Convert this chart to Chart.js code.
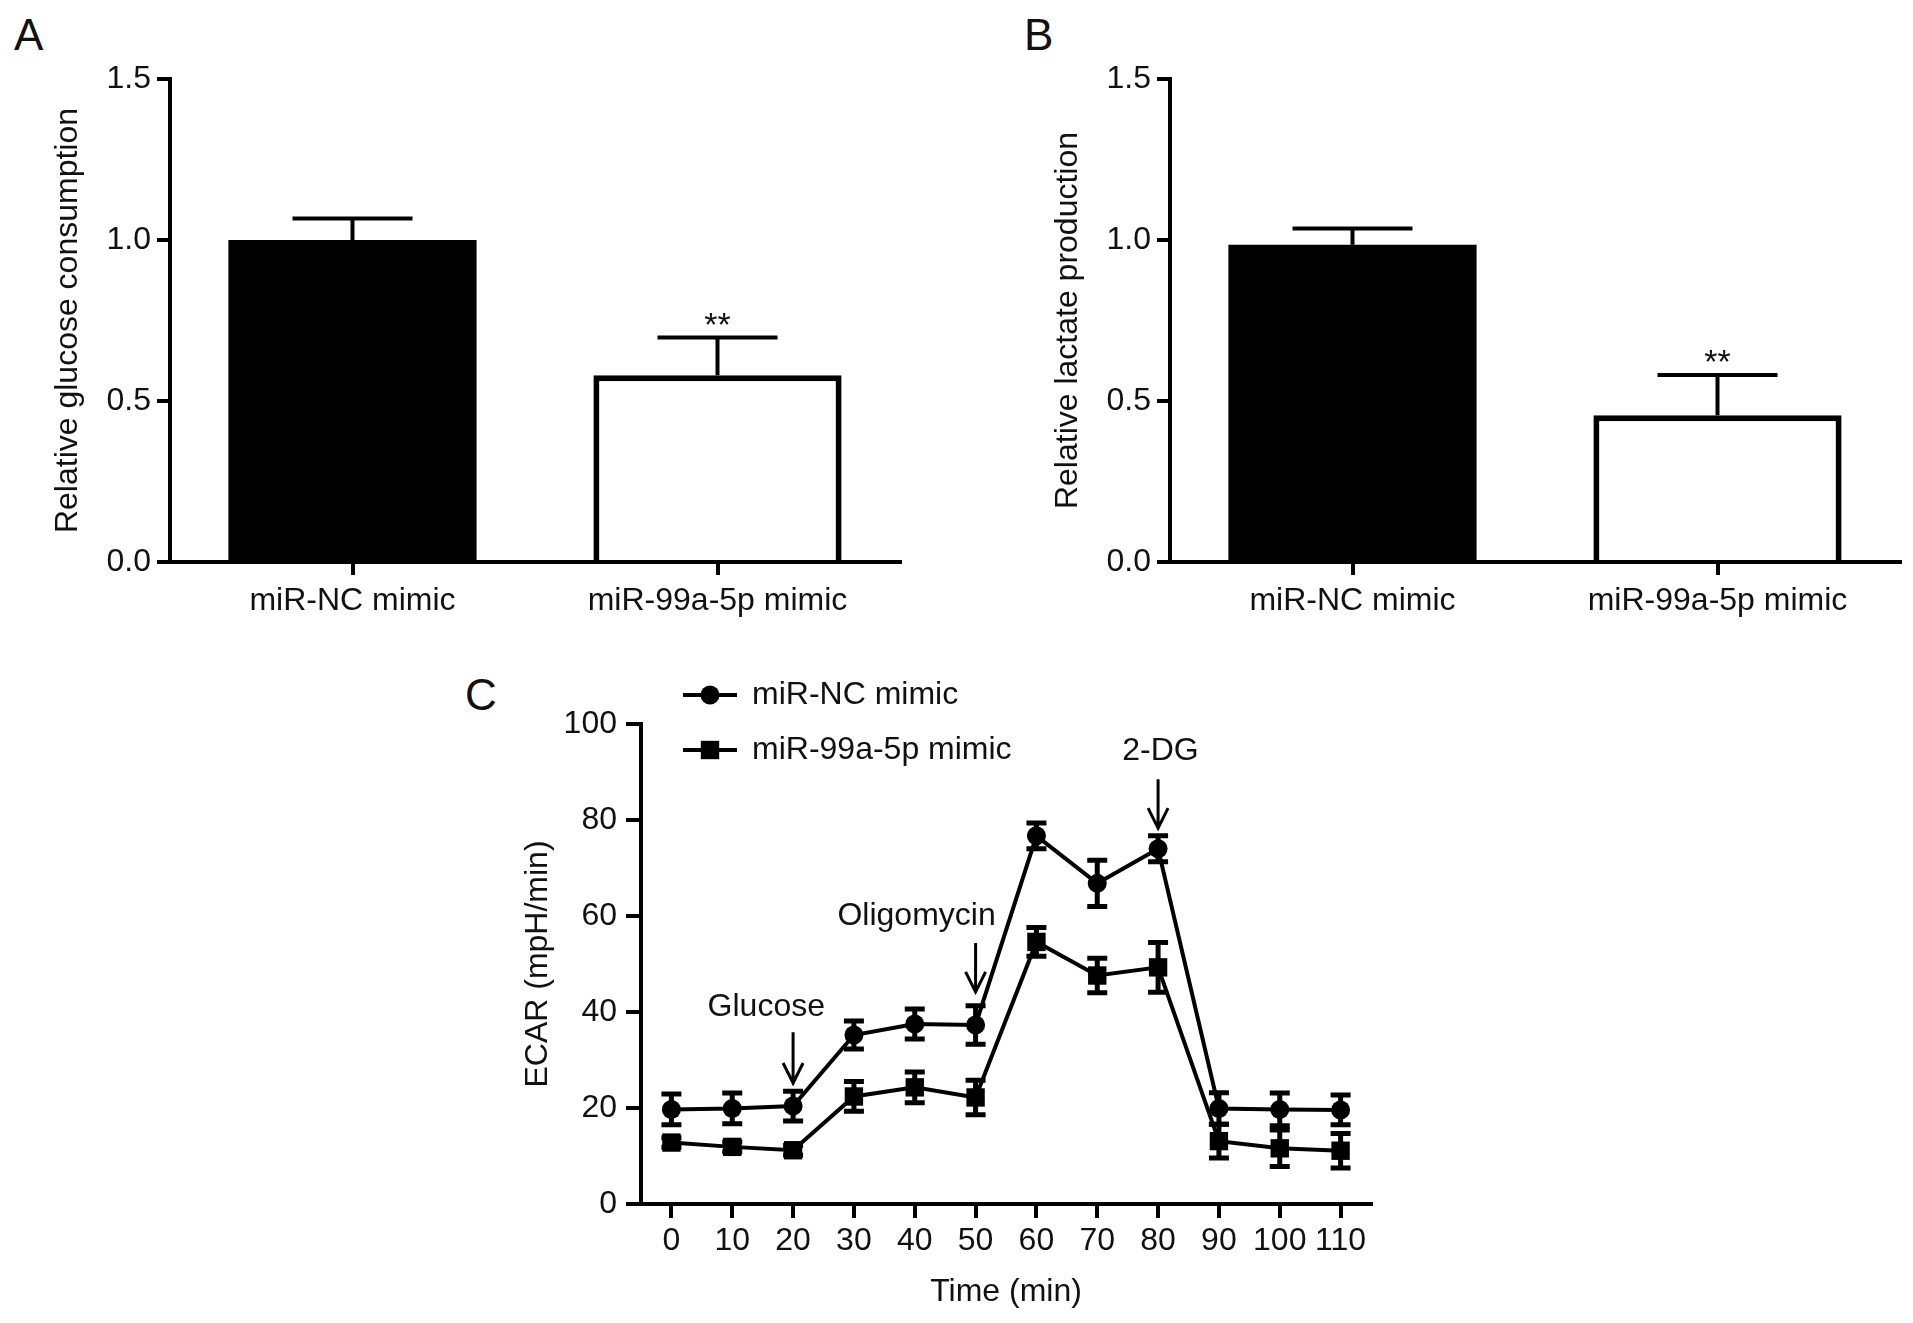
<!DOCTYPE html>
<html>
<head>
<meta charset="utf-8">
<script src="https://cdn.jsdelivr.net/npm/chart.js@4"></script>
<style>
html,body{margin:0;padding:0;background:#fff;}
body{width:1913px;height:1323px;position:relative;overflow:hidden;font-family:'Liberation Sans',Arial,Helvetica,sans-serif;}
canvas{position:absolute;}
.panel{position:absolute;font-size:44px;line-height:44px;color:#111;}
</style>
</head>
<body>
<div class="panel" style="left:14px;top:13px">A</div>
<div class="panel" style="left:1024px;top:13px">B</div>
<div class="panel" style="left:465px;top:673px">C</div>
<canvas id="cA" width="960" height="650" style="left:0px;top:0px;width:960px;height:650px"></canvas>
<canvas id="cB" width="913" height="650" style="left:1000px;top:0px;width:913px;height:650px"></canvas>
<canvas id="cC" width="1000" height="673" style="left:440px;top:650px;width:1000px;height:673px"></canvas>
<script>
// ---------- data ----------
const barCategories = ['miR-NC mimic', 'miR-99a-5p mimic'];
const glucoseMean = [1.00, 0.58];
const glucoseSEM = [0.067, 0.117];
const lactateMean = [0.985, 0.456];
const lactateSEM = [0.051, 0.125];
const barSignificance = ['', '**'];
const barYTicks = [0, 0.5, 1.0, 1.5];

const timePoints = [0, 10, 20, 30, 40, 50, 60, 70, 80, 90, 100, 110];
const ncECAR     = [19.7, 19.9, 20.4, 35.2, 37.5, 37.3, 76.7, 66.8, 74.0, 19.9, 19.7, 19.6];
const ncECARErr  = [3.2, 3.2, 3.1, 2.9, 3.1, 4.0, 2.7, 4.8, 2.7, 3.3, 3.4, 3.1];
const mirECAR    = [12.8, 11.9, 11.2, 22.4, 24.3, 22.2, 54.6, 47.6, 49.3, 13.1, 11.6, 11.1];
const mirECARErr = [1.0, 1.0, 1.0, 3.1, 3.2, 3.6, 3.0, 3.6, 5.2, 3.5, 3.8, 3.6];
const timeTicks = [0, 10, 20, 30, 40, 50, 60, 70, 80, 90, 100, 110];
const ecarTicks = [0, 20, 40, 60, 80, 100];
const treatments = ['Glucose', 'Oligomycin', '2-DG'];
const treatmentTimes = [20, 50, 80];
// annotation anchors (data units): label centre and arrow start/end
const treatmentLabelX = [15.6, 40.3, 80.4];
const treatmentLabelY = [41.0, 59.9, 94.4];
const arrowFrom = [35.8, 54.4, 88.5];
const arrowTo = [25.2, 44.2, 78.3];

// ---------- style ----------
const FONT = "'Liberation Sans', Arial, Helvetica, sans-serif";
const TEXT = '#111';
Chart.defaults.font.family = FONT;
Chart.defaults.color = TEXT;

const barErrPlugin = {
  id: 'barErr',
  afterDatasetsDraw(chart, args, opts) {
    const ctx = chart.ctx, ds = chart.data.datasets[0], meta = chart.getDatasetMeta(0), y = chart.scales.y;
    ctx.save();
    ctx.strokeStyle = '#000'; ctx.lineWidth = 4; ctx.lineCap = 'butt';
    meta.data.forEach((bar, i) => {
      const base = y.getPixelForValue(ds.data[i]);
      const top = y.getPixelForValue(ds.data[i] + opts.errors[i]);
      ctx.beginPath();
      ctx.moveTo(bar.x, base); ctx.lineTo(bar.x, top);
      ctx.moveTo(bar.x - 60, top); ctx.lineTo(bar.x + 60, top);
      ctx.stroke();
      if (opts.stars[i]) {
        ctx.fillStyle = TEXT; ctx.font = '34px ' + FONT;
        ctx.textAlign = 'center'; ctx.textBaseline = 'alphabetic';
        ctx.fillText(opts.stars[i], bar.x, top - 2);
      }
    });
    ctx.restore();
  }
};

function barChart(id, title, means, sems, rightPad) {
  return new Chart(document.getElementById(id), {
    type: 'bar',
    data: {
      labels: barCategories,
      datasets: [{
        data: means,
        backgroundColor: ['#000', '#fff'],
        borderColor: '#000',
        borderWidth: [0, 6],
        barPercentage: 0.68,
        categoryPercentage: 1
      }]
    },
    options: {
      responsive: false, animation: false, devicePixelRatio: 1,
      layout: {padding: {top: 79, right: rightPad, bottom: 0, left: 0}},
      plugins: {
        legend: {display: false}, tooltip: {enabled: false},
        barErr: {errors: sems, stars: barSignificance}
      },
      scales: {
        x: {
          type: 'category',
          grid: {drawOnChartArea: false, offset: false, tickLength: 13, lineWidth: 4, color: '#000'},
          border: {color: '#000', width: 4, z: 1},
          ticks: {font: {size: 32}, padding: 7, color: TEXT},
          afterFit: s => { s.height = 88; }
        },
        y: {
          min: 0, max: 1.5,
          afterBuildTicks: s => { s.ticks = barYTicks.map(v => ({value: v})); },
          ticks: {font: {size: 32}, padding: 6, color: TEXT, callback: v => Number(v).toFixed(1)},
          grid: {drawOnChartArea: false, tickLength: 13, lineWidth: 4, color: '#000'},
          border: {color: '#000', width: 4},
          title: {display: true, text: title, font: {size: 32}, color: TEXT, padding: {top: 49, bottom: 0}},
          afterFit: s => { s.width = 170; }
        }
      }
    },
    plugins: [barErrPlugin]
  });
}

barChart('cA', 'Relative glucose consumption', glucoseMean, glucoseSEM, 60);
barChart('cB', 'Relative lactate production', lactateMean, lactateSEM, 13);

// ---------- panel C ----------
const lineErrPlugin = {
  id: 'lineErr',
  afterDatasetsDraw(chart, args, opts) {
    const ctx = chart.ctx, y = chart.scales.y;
    ctx.save();
    ctx.strokeStyle = '#000'; ctx.lineWidth = 5; ctx.lineCap = 'butt';
    chart.data.datasets.forEach((ds, d) => {
      const meta = chart.getDatasetMeta(d);
      meta.data.forEach((pt, i) => {
        const v = ds.data[i].y, e = opts.errors[d][i];
        const t = y.getPixelForValue(v + e), b = y.getPixelForValue(v - e);
        ctx.beginPath();
        ctx.moveTo(pt.x, t); ctx.lineTo(pt.x, b);
        ctx.moveTo(pt.x - 10, t); ctx.lineTo(pt.x + 10, t);
        ctx.moveTo(pt.x - 10, b); ctx.lineTo(pt.x + 10, b);
        ctx.stroke();
      });
    });
    ctx.restore();
  }
};

const arrowPlugin = {
  id: 'treatArrows',
  afterDatasetsDraw(chart) {
    const ctx = chart.ctx, xs = chart.scales.x, ys = chart.scales.y;
    ctx.save();
    ctx.strokeStyle = '#000'; ctx.lineWidth = 3; ctx.lineCap = 'butt'; ctx.lineJoin = 'miter';
    ctx.fillStyle = TEXT; ctx.font = '32px ' + FONT;
    ctx.textAlign = 'center'; ctx.textBaseline = 'middle';
    treatments.forEach((name, i) => {
      const x = xs.getPixelForValue(treatmentTimes[i]);
      const y1 = ys.getPixelForValue(arrowFrom[i]);
      const y2 = ys.getPixelForValue(arrowTo[i]);
      ctx.beginPath();
      ctx.moveTo(x, y1); ctx.lineTo(x, y2 - 1);
      ctx.moveTo(x - 10, y2 - 20); ctx.lineTo(x, y2); ctx.lineTo(x + 10, y2 - 20);
      ctx.stroke();
      ctx.fillText(name, xs.getPixelForValue(treatmentLabelX[i]), ys.getPixelForValue(treatmentLabelY[i]));
    });
    ctx.restore();
  }
};

const legendPlugin = {
  id: 'stackLegend',
  afterDraw(chart, args, opts) {
    const ctx = chart.ctx;
    ctx.save();
    chart.data.datasets.forEach((ds, i) => {
      const y = opts.rowY[i];
      ctx.strokeStyle = '#000'; ctx.lineWidth = 4;
      ctx.beginPath(); ctx.moveTo(opts.lineX0, y); ctx.lineTo(opts.lineX1, y); ctx.stroke();
      ctx.fillStyle = '#000';
      Chart.helpers.drawPoint(ctx, {pointStyle: ds.pointStyle, radius: ds.pointRadius, borderWidth: 0, rotation: 0},
        (opts.lineX0 + opts.lineX1) / 2, y);
      ctx.fillStyle = TEXT; ctx.font = '32px ' + FONT;
      ctx.textAlign = 'left'; ctx.textBaseline = 'middle';
      ctx.fillText(ds.label, opts.textX, y);
    });
    ctx.restore();
  }
};

new Chart(document.getElementById('cC'), {
  type: 'line',
  data: {
    datasets: [
      {
        label: 'miR-NC mimic',
        data: timePoints.map((t, i) => ({x: t, y: ncECAR[i]})),
        borderColor: '#000', backgroundColor: '#000', borderWidth: 4,
        pointStyle: 'circle', pointRadius: 9.5, pointBorderWidth: 0,
        pointBackgroundColor: '#000', tension: 0
      },
      {
        label: 'miR-99a-5p mimic',
        data: timePoints.map((t, i) => ({x: t, y: mirECAR[i]})),
        borderColor: '#000', backgroundColor: '#000', borderWidth: 4,
        pointStyle: 'rect', pointRadius: 13, pointBorderWidth: 0,
        pointBackgroundColor: '#000', tension: 0
      }
    ]
  },
  options: {
    responsive: false, animation: false, devicePixelRatio: 1,
    layout: {padding: {top: 74, right: 69, bottom: 0, left: 0}},
    plugins: {
      legend: {display: false}, tooltip: {enabled: false},
      lineErr: {errors: [ncECARErr, mirECARErr]},
      stackLegend: {rowY: [45, 100], lineX0: 243, lineX1: 297, textX: 312}
    },
    scales: {
      x: {
        type: 'linear', min: -5, max: 115,
        afterBuildTicks: s => { s.ticks = timeTicks.map(v => ({value: v})); },
        ticks: {font: {size: 32}, padding: 4, color: TEXT},
        grid: {drawOnChartArea: false, tickLength: 14, lineWidth: 4, color: '#000'},
        border: {color: '#000', width: 4, z: 1},
        title: {display: true, text: 'Time (min)', font: {size: 32}, color: TEXT, padding: {top: 0, bottom: 12}},
        afterFit: s => { s.height = 119; }
      },
      y: {
        min: 0, max: 100,
        afterBuildTicks: s => { s.ticks = ecarTicks.map(v => ({value: v})); },
        ticks: {font: {size: 32}, padding: 9, color: TEXT},
        grid: {drawOnChartArea: false, tickLength: 15, lineWidth: 4, color: '#000'},
        border: {color: '#000', width: 4},
        title: {display: true, text: 'ECAR (mpH/min)', font: {size: 32}, color: TEXT, padding: {top: 79, bottom: 0}},
        afterFit: s => { s.width = 201; }
      }
    }
  },
  plugins: [lineErrPlugin, arrowPlugin, legendPlugin]
});
</script>
</body>
</html>
